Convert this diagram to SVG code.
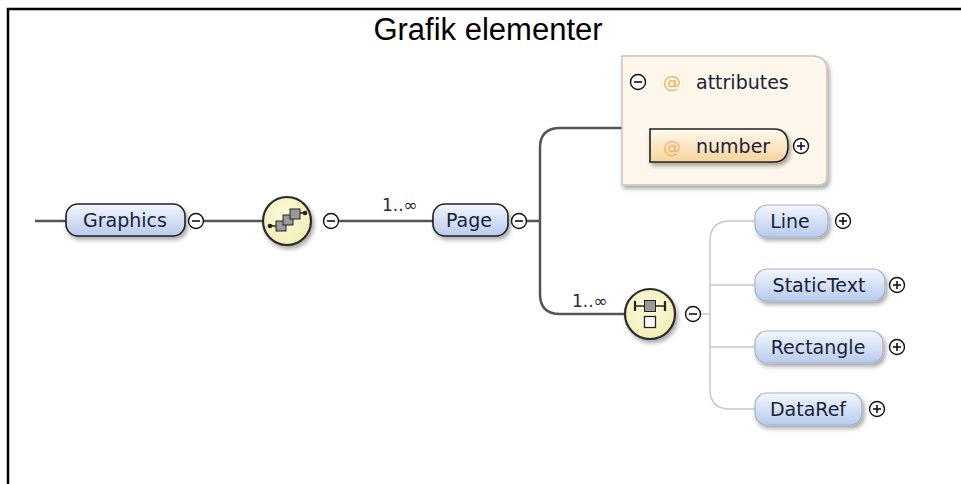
<svg xmlns="http://www.w3.org/2000/svg" width="961" height="484" viewBox="0 0 961 484">
  <style>
    .title { font-family: "Liberation Sans", Arial, sans-serif; font-size: 31px; fill: #000; }
    .lbl { font-family: "DejaVu Sans", "Noto Sans", sans-serif; font-size: 19px; fill: #1a2238; }
    .card { font-family: "DejaVu Sans", "Noto Sans", sans-serif; font-size: 17px; fill: #2a2a2a; }
    .at { font-family: "DejaVu Sans", "Noto Sans", sans-serif; font-size: 18px; fill: #f2b15c; }
    .main { fill: none; stroke: #555; stroke-width: 2.5; }
    .tree { fill: none; stroke: #c8c8c8; stroke-width: 1.5; }
    .elem { fill: url(#blue); stroke: #222; stroke-width: 1.6; }
    .elemL { fill: url(#blue); stroke: #a9b3c6; stroke-width: 1.2; }
    .pm { fill: #fff; stroke: #111; stroke-width: 1.4; }
    .pmt { stroke: #111; stroke-width: 1.6; }
    .comp { fill: url(#yellow); stroke: #2a2a2a; stroke-width: 2.2; }
    .ico { stroke: #222; stroke-width: 1.5; }
    .sq { fill: #9a9a9a; stroke: #222; stroke-width: 1; }
  </style>
  <defs>
    <linearGradient id="blue" x1="0" y1="0" x2="0" y2="1">
      <stop offset="0" stop-color="#f3f7fd"/>
      <stop offset="1" stop-color="#b7cbee"/>
    </linearGradient>
    <linearGradient id="orange" x1="0" y1="0" x2="0" y2="1">
      <stop offset="0" stop-color="#fffaf0"/>
      <stop offset="1" stop-color="#f7d49c"/>
    </linearGradient>
    <radialGradient id="yellow" cx="0.45" cy="0.4" r="0.6">
      <stop offset="0" stop-color="#fdfce0"/>
      <stop offset="1" stop-color="#f1eeb4"/>
    </radialGradient>
    <linearGradient id="sep" x1="0" y1="0" x2="1" y2="0">
      <stop offset="0" stop-color="#d8d2c4" stop-opacity="0"/>
      <stop offset="0.3" stop-color="#c9c3b5"/>
      <stop offset="0.8" stop-color="#c9c3b5"/>
      <stop offset="1" stop-color="#d8d2c4" stop-opacity="0"/>
    </linearGradient>
    <filter id="sh" x="-20%" y="-20%" width="150%" height="170%">
      <feDropShadow dx="2" dy="3" stdDeviation="2" flood-color="#000" flood-opacity="0.35"/>
    </filter>
    <g id="minus">
      <circle r="7.5" class="pm"/>
      <line x1="-4" y1="0" x2="4" y2="0" class="pmt"/>
    </g>
    <g id="plus">
      <circle r="7.5" class="pm"/>
      <line x1="-4" y1="0" x2="4" y2="0" class="pmt"/>
      <line x1="0" y1="-4" x2="0" y2="4" class="pmt"/>
    </g>
  </defs>

  <rect width="961" height="484" fill="#fff"/>
  <g id="frame">
    <path d="M 8 484 V 9 H 961" fill="none" stroke="#000" stroke-width="2.5"/>
  </g>
  <text class="title" x="488" y="40" text-anchor="middle">Grafik elementer</text>

  <g id="connectors">
    <line x1="35" y1="221" x2="66" y2="221" class="main"/>
    <line x1="204" y1="221" x2="262" y2="221" class="main"/>
    <line x1="338" y1="221" x2="433" y2="221" class="main"/>
    <text class="card" x="382" y="211">1..∞</text>
    <path d="M 527 221 H 540 M 540 221 V 148 Q 540 128 560 128 H 622 M 540 221 V 294 Q 540 314 560 314 H 626" class="main"/>
    <text class="card" x="572" y="307">1..∞</text>
    <path d="M 700 314 H 710 M 755 221 H 730 Q 710 221 710 241 V 389 Q 710 409 730 409 H 755 M 710 285 H 755 M 710 347 H 755" class="tree"/>
  </g>

  <g id="graphics">
    <rect x="66" y="204" width="119" height="32" rx="12" class="elem" filter="url(#sh)"/>
    <text class="lbl" x="125" y="227" text-anchor="middle">Graphics</text>
    <use href="#minus" x="196" y="221"/>
  </g>

  <g id="sequence">
    <circle cx="287" cy="221" r="24" class="comp" filter="url(#sh)"/>
    <line x1="270" y1="226" x2="278" y2="226" class="ico"/>
    <line x1="298" y1="213" x2="305" y2="213" class="ico"/>
    <circle cx="270" cy="226" r="2.3" fill="#222"/>
    <circle cx="305" cy="213" r="2.3" fill="#222"/>
    <rect x="276" y="221" width="10" height="10" class="sq"/>
    <rect x="283" y="215" width="10" height="10" class="sq"/>
    <rect x="290" y="209" width="10" height="10" class="sq"/>
    <use href="#minus" x="331" y="221"/>
  </g>

  <g id="page">
    <rect x="433" y="204" width="75" height="32" rx="12" class="elem" filter="url(#sh)"/>
    <text class="lbl" x="469" y="227" text-anchor="middle">Page</text>
    <use href="#minus" x="519" y="221"/>
  </g>

  <g id="attributes">
    <path d="M 622 56 H 812 Q 827 56 827 71 V 177 Q 827 185 819 185 H 622 Z" fill="#fcf7ea" stroke="#c9c5bb" stroke-width="1.5" filter="url(#sh)"/>
    <use href="#minus" x="638" y="82"/>
    <text class="at" x="672" y="88" text-anchor="middle">@</text>
    <text class="lbl" x="696" y="89">attributes</text>
    <line x1="648" y1="105" x2="782" y2="105" stroke="url(#sep)" stroke-width="2"/>
  </g>

  <g id="number">
    <path d="M 650 129 H 774 Q 788 129 788 145.5 Q 788 162 774 162 H 650 Z" fill="url(#orange)" stroke="#222" stroke-width="1.6" filter="url(#sh)"/>
    <text class="at" x="672" y="153" text-anchor="middle">@</text>
    <text class="lbl" x="696" y="153">number</text>
    <use href="#plus" x="801" y="146"/>
  </g>

  <g id="choice">
    <circle cx="650" cy="314" r="25" class="comp" filter="url(#sh)"/>
    <line x1="635" y1="306" x2="665" y2="306" class="ico"/>
    <line x1="635" y1="301" x2="635" y2="311" stroke="#222" stroke-width="2.2"/>
    <line x1="665" y1="301" x2="665" y2="311" stroke="#222" stroke-width="2.2"/>
    <rect x="644.5" y="300.5" width="11" height="11" class="sq"/>
    <rect x="644.5" y="316.5" width="11" height="11" fill="#fff" stroke="#222" stroke-width="1.3"/>
    <use href="#minus" x="693" y="314"/>
  </g>

  <g id="line">
    <rect x="755" y="205" width="73" height="32" rx="12" class="elemL" filter="url(#sh)"/>
    <text class="lbl" x="790" y="228" text-anchor="middle">Line</text>
    <use href="#plus" x="843" y="221"/>
  </g>

  <g id="statictext">
    <rect x="755" y="269" width="130" height="32" rx="12" class="elemL" filter="url(#sh)"/>
    <text class="lbl" x="819" y="292" text-anchor="middle">StaticText</text>
    <use href="#plus" x="897" y="285"/>
  </g>

  <g id="rectangle">
    <rect x="755" y="331" width="128" height="32" rx="12" class="elemL" filter="url(#sh)"/>
    <text class="lbl" x="818" y="354" text-anchor="middle">Rectangle</text>
    <use href="#plus" x="897" y="347"/>
  </g>

  <g id="dataref">
    <rect x="755" y="393" width="107" height="32" rx="12" class="elemL" filter="url(#sh)"/>
    <text class="lbl" x="808" y="416" text-anchor="middle">DataRef</text>
    <use href="#plus" x="877" y="409"/>
  </g>
</svg>
